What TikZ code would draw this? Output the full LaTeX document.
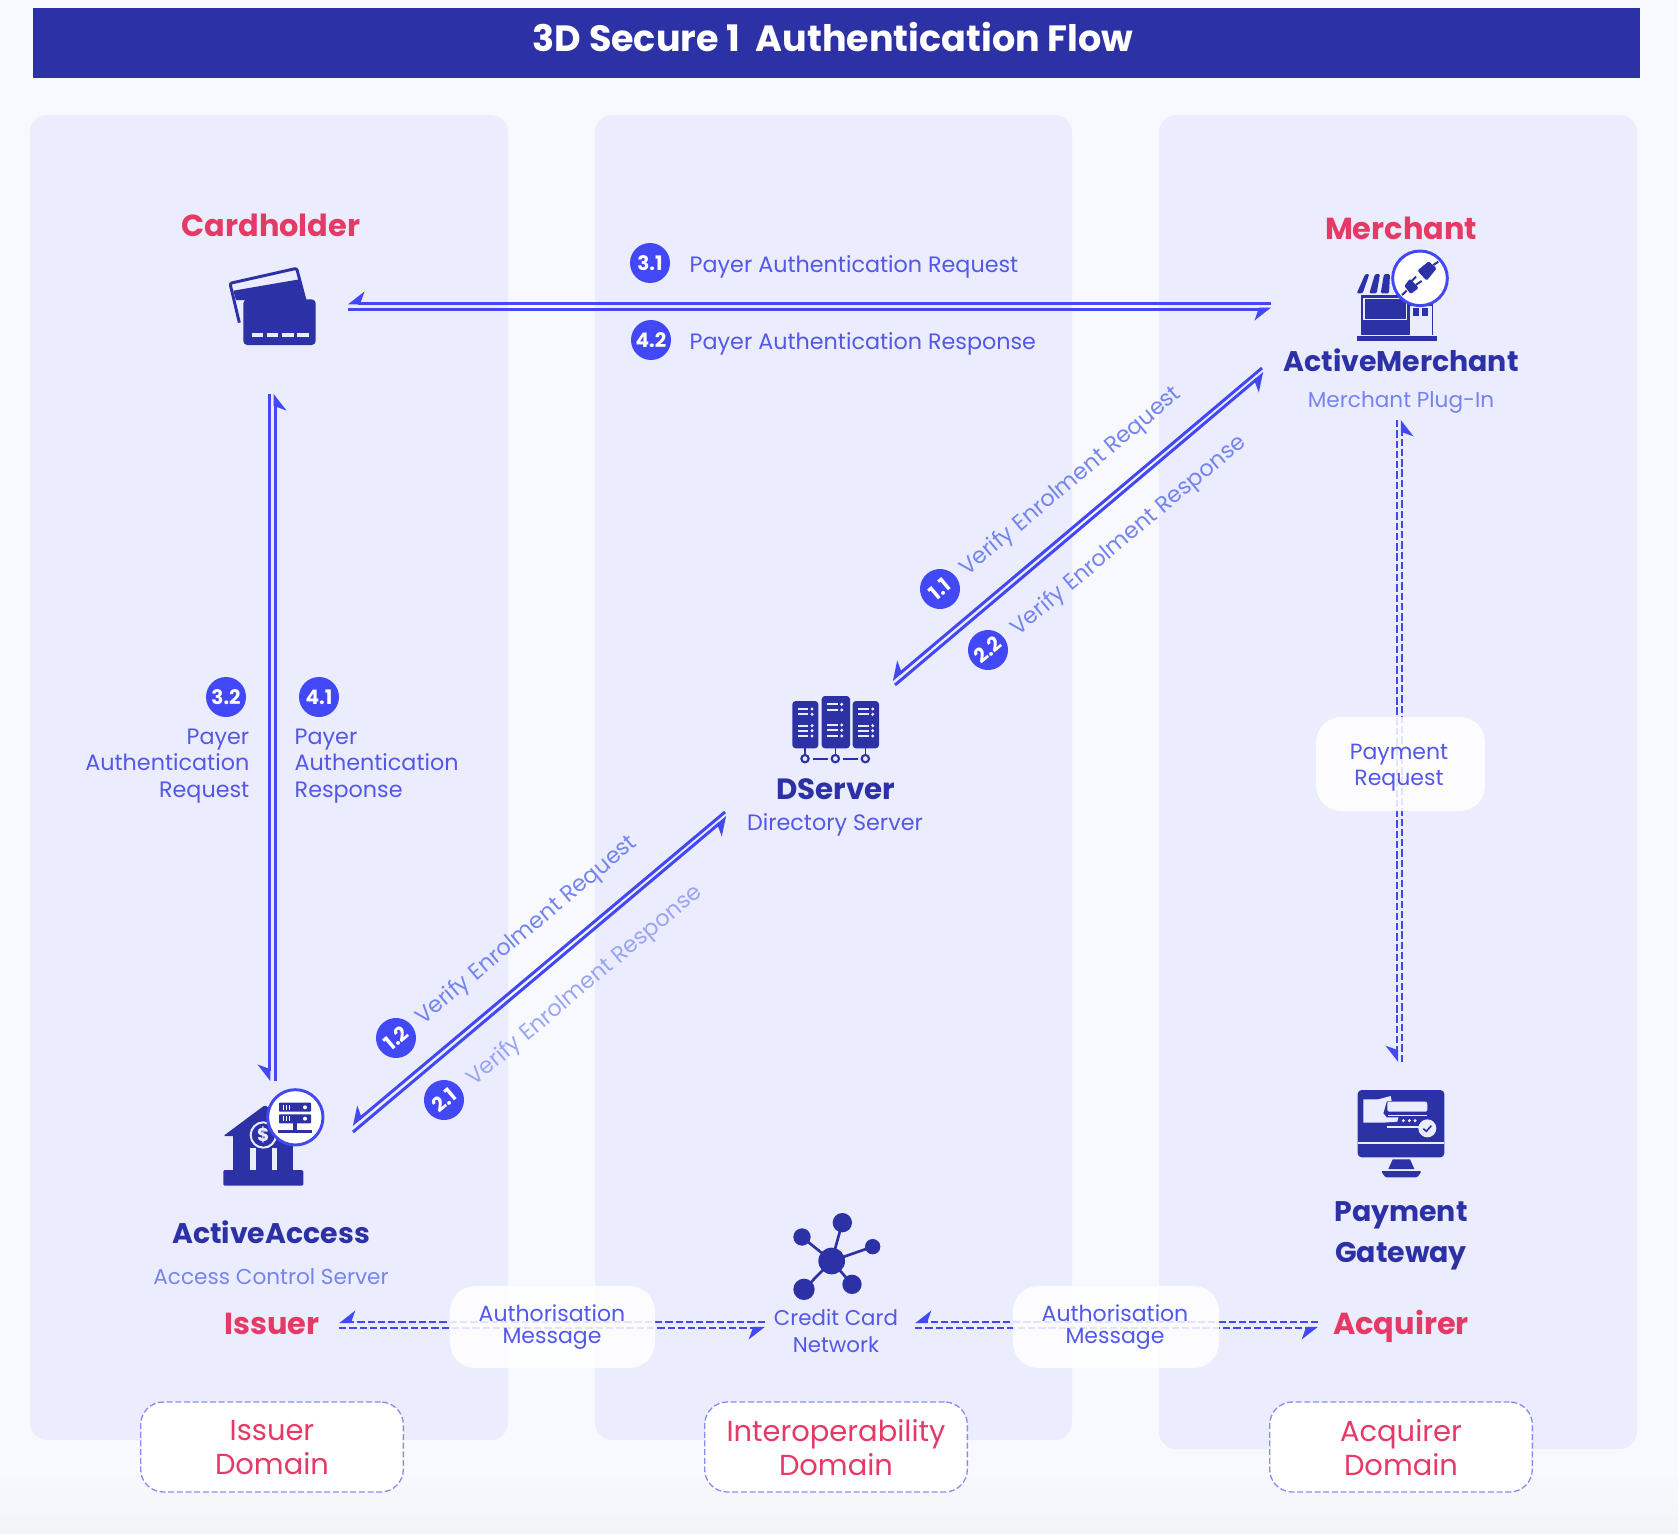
\documentclass[tikz,border=0pt]{standalone}
\usepackage{fontspec}
\setmainfont{Poppins}
\usetikzlibrary{arrows.meta}
\definecolor{bgcol}{HTML}{F8F9FE}
\definecolor{bgend}{HTML}{F3F4F8}
\definecolor{panelcol}{HTML}{EBECFD}
\definecolor{barcol}{HTML}{2D31A6}
\definecolor{pinkcol}{HTML}{E63A66}
\definecolor{flowcol}{HTML}{4348F6}
\definecolor{lightcol}{HTML}{7585F0}
\definecolor{faintcol}{HTML}{9AA6F5}
\definecolor{labelcol}{HTML}{5358E8}
\definecolor{edgecol}{HTML}{8A8CF5}
\newcommand{\fsize}[2]{\fontsize{#1}{#2}\selectfont}
\tikzset{
  flow/.style={draw=flowcol,line width=2.25pt,
    -{Stealth[harpoon,swap,length=11pt,width=17pt,inset=3pt]}},
  dflow/.style={flow,line width=1.8pt,dash pattern=on 5.5pt off 2.2pt},
  panel/.style={fill=panelcol,rounded corners=13pt},
  msgbox/.style={fill=white,fill opacity=.85,rounded corners=19pt},
  domainbox/.style={draw=edgecol,line width=1pt,dash pattern=on 4.5pt off 2pt,
    fill=white,rounded corners=17pt},
  role/.style={text=pinkcol,font=\fsize{22.8}{28}\bfseries},
  actor/.style={text=barcol,font=\fsize{21.3}{31}\bfseries,align=center},
  plugin/.style={text=lightcol,font=\fsize{16.2}{20}},
  msg/.style={text=labelcol,font=\fsize{16.7}{20}},
  small/.style={text=labelcol,font=\fsize{16.5}{17},align=center},
  domtext/.style={text=pinkcol,font=\fsize{21.7}{25.5},align=center},
  badge/.style={circle,fill=flowcol,minimum size=30pt,inner sep=0pt,text=white,
    font=\fsize{15}{15}\bfseries},
  diag/.style={rotate=40,font=\fsize{16.9}{20}},
  icon/.style 2 args={shift={(#1,#2)},x=.25pt,y=-.25pt},
  ink/.style={fill=barcol},
  gap/.style={fill=panelcol}
}
\begin{document}
\begin{tikzpicture}[x=.75pt,y=-.75pt]
  \useasboundingbox (0,0) rectangle (1678,1534);
  \fill[bgcol] (0,0) rectangle (1678,1534);
  \shade[top color=bgcol,bottom color=bgend] (0,1470) rectangle (1678,1534);
  \fill[barcol] (33,8) rectangle (1640,78);
  \node[name=title,text=white,font=\fsize{27.4}{30}\bfseries] at (833,37)
    {3D Secure 1\ \ Authentication Flow};
  \fill[panel] (30,115) rectangle (508,1440);
  \fill[panel] (595,115) rectangle (1072,1440);
  \fill[panel] (1159,115) rectangle (1637,1449);

  \coordinate (cardl) at (348,303);
  \coordinate (cardr) at (348,309);
  \coordinate (merchl) at (1271,303);
  \coordinate (merchr) at (1271,309);
  \draw[flow] (merchl) -- (cardl);
  \draw[flow] (cardr) -- (merchr);
  \coordinate (cardd) at (269,394);
  \coordinate (cardu) at (275,394);
  \coordinate (accessd) at (269,1081);
  \coordinate (accessu) at (275,1081);
  \draw[flow] (cardd) -- (accessd);
  \draw[flow] (accessu) -- (cardu);
  \coordinate (md1) at (1262,368);
  \coordinate (dm1) at (892,680);
  \coordinate (dm2) at (895,685);
  \coordinate (md2) at (1264,373);
  \draw[flow] (md1) -- (dm1);
  \draw[flow] (dm2) -- (md2);
  \coordinate (da1) at (725,812);
  \coordinate (ad1) at (352,1125);
  \coordinate (ad2) at (353,1132);
  \coordinate (da2) at (727,817);
  \draw[flow] (da1) -- (ad1);
  \draw[flow] (ad2) -- (da2);
  \coordinate (pgd) at (1397,420);
  \coordinate (pgu) at (1402,420);
  \coordinate (gwd) at (1397,1062);
  \coordinate (gwu) at (1402,1062);
  \draw[dflow] (pgd) -- (gwd);
  \draw[dflow] (gwu) -- (pgu);
  \coordinate (issl) at (339,1322);
  \coordinate (issr) at (339,1328);
  \coordinate (ccl1) at (765,1322);
  \coordinate (ccl2) at (765,1328);
  \draw[dflow] (ccl1) -- (issl);
  \draw[dflow] (issr) -- (ccl2);
  \coordinate (ccr1) at (915,1322);
  \coordinate (ccr2) at (915,1328);
  \coordinate (acqu) at (1318,1322);
  \coordinate (acqd) at (1318,1328);
  \draw[dflow] (acqu) -- (ccr1);
  \draw[dflow] (ccr2) -- (acqd);

  \fill[msgbox] (450,1286) rectangle (655,1368);
  \fill[msgbox] (1013,1286) rectangle (1219,1368);
  \fill[msgbox] (1316,717) rectangle (1485,811);
  \node[small,name=authl] at (552,1327) {Authorisation\\Message};
  \node[small,name=authr] at (1115,1327) {Authorisation\\Message};
  \node[small,font=\fsize{16.5}{19.5},name=payreq] at (1399,768) {Payment\\Request};
  \node[domainbox,minimum width=197pt,minimum height=67.5pt,name=issbox] at (272,1447) {};
  \node[domainbox,minimum width=197pt,minimum height=67.5pt,name=intbox] at (836,1447) {};
  \node[domainbox,minimum width=197pt,minimum height=67.5pt,name=acqbox] at (1401,1447) {};
  \node[domtext,name=issdom] at (272,1448) {Issuer\\Domain};
  \node[domtext,name=intdom] at (836,1448) {Interoperability\\Domain};
  \node[domtext,name=acqdom] at (1401,1448) {Acquirer\\Domain};

  \node[role,name=cardholder] at (271,225) {Cardholder};
  \node[role,name=merchant] at (1401,228) {Merchant};
  \node[role,name=issuer] at (272,1324) {Issuer};
  \node[role,name=acquirer] at (1401,1326) {Acquirer};
  \node[actor,name=activemerchant] at (1401,360) {ActiveMerchant};
  \node[plugin,name=mpi] at (1401,402) {Merchant Plug-In};
  \node[actor,font=\fsize{22}{31}\bfseries,name=dserver] at (836,789) {DServer};
  \node[msg,name=directory] at (835,825) {Directory Server};
  \node[actor,name=activeaccess] at (271,1232) {ActiveAccess};
  \node[plugin,name=acs] at (271,1277) {Access Control Server};
  \node[actor,name=gateway] at (1401,1236) {Payment\\Gateway};
  \node[small,font=\fsize{16}{20},name=network] at (836,1331) {Credit Card\\Network};

  \node[badge,name=b31] at (650,263) {3.1};
  \node[badge,name=b42] at (651,340) {4.2};
  \node[msg,anchor=west,name=par] at (685,267) {Payer Authentication Request};
  \node[msg,anchor=west,name=pares] at (685,344) {Payer Authentication Response};
  \node[badge,name=b32] at (226,697) {3.2};
  \node[badge,name=b41] at (319,697) {4.1};
  \node[msg,align=right,anchor=east,name=lpar] at (254,766) {Payer\\Authentication\\Request};
  \node[msg,align=left,anchor=west,name=lpares] at (290,766) {Payer\\Authentication\\Response};
  \node[badge,rotate=40,name=b11] at (940,589) {1.1};
  \node[badge,rotate=40,name=b22] at (988,650) {2.2};
  \node[badge,rotate=40,name=b12] at (396,1038) {1.2};
  \node[badge,rotate=40,name=b21] at (444,1100) {2.1};
  \node[diag,text=lightcol,name=ver1] at (1071,482) {Verify Enrolment Request};
  \node[diag,text=lightcol,name=ves1] at (1129,536) {Verify Enrolment Response};
  \node[diag,text=lightcol,name=ver2] at (527,931) {Verify Enrolment Request};
  \node[diag,text=faintcol,name=ves2] at (585,986) {Verify Enrolment Response};

  % cards
  \begin{scope}[icon={150}{200}]
    \draw[barcol,line width=2.2pt,rounded corners=1.5pt] (268,368) -- (240,250) -- (440,205) -- (465,300);
    \fill[ink] (250,272) -- (448,238) -- (465,300) -- (258,300) -- cycle;
    \fill[ink,rounded corners=3pt] (280,298) rectangle (497,435);
    \foreach \xa/\xb in {305/338,350/385,395/432,440/477}
      \draw[panelcol,line width=2.4pt] (\xa,405) -- (\xb,405);
  \end{scope}
  % shop
  \begin{scope}[icon={1240}{200}]
    \fill[ink,rounded corners=1pt] (350,280) -- (376,222) -- (388,222) -- (368,280) -- cycle;
    \fill[ink,rounded corners=1pt] (388,280) -- (405,222) -- (420,222) -- (410,280) -- cycle;
    \fill[ink,rounded corners=1pt] (422,280) -- (432,222) -- (450,222) -- (447,280) -- cycle;
    \fill[ink] (363,285) rectangle (510,405);
    \draw[panelcol,line width=.8pt] (372,295) rectangle (500,358);
    \draw[barcol,line width=.8pt] (510,315) -- (577,315) -- (577,405);
    \fill[ink] (520,325) rectangle (538,347);
    \fill[ink] (545,325) rectangle (565,347);
    \fill[ink] (350,408) rectangle (590,423);
    \draw[flowcol,line width=2.2pt,fill=white] (540,235) circle (82);
    \fill[ink,rounded corners=1pt] (532,212) -- (566,184) -- (590,205) -- (560,242) -- cycle;
    \draw[barcol,line width=1.5pt] (580,195) -- (595,185);
    \fill[ink,rounded corners=1pt] (493,258) -- (510,236) -- (536,264) -- (512,282) -- cycle;
    \draw[barcol,line width=1.5pt] (500,272) -- (486,285);
    \draw[barcol,line width=1.5pt] (515,243) -- (528,230);
    \draw[barcol,line width=1.5pt] (527,255) -- (545,243);
  \end{scope}
  % racks
  \begin{scope}[icon={720}{660}]
    \fill[ink,rounded corners=2.5pt] (217,123) rectangle (295,265);
    \fill[ink,rounded corners=2.5pt] (305,108) rectangle (390,265);
    \fill[ink,rounded corners=2.5pt] (398,123) rectangle (477,265);
    \foreach \xs/\ys in {233/{147,163,197,212,228},322/{133,150,195,211,228},415/{147,163,197,212,228}}
      \foreach \yl in \ys {
        \draw[panelcol,line width=1.4pt] (\xs,\yl) -- ++(32,0);
        \fill[panelcol] (\xs+43,\yl) circle (5);
      }
    \foreach \xr in {255,346,436} {
      \draw[barcol,line width=1pt] (\xr,265) -- (\xr,282);
      \draw[barcol,line width=1.6pt] (\xr,296) circle (11);
    }
    \draw[barcol,line width=1.6pt] (278,296) -- (323,296);
    \draw[barcol,line width=1.6pt] (369,296) -- (413,296);
  \end{scope}
  % bank
  \begin{scope}[icon={170}{1060}]
    \fill[ink,rounded corners=1pt] (160,228) -- (285,135) -- (400,228) -- cycle;
    \fill[ink] (190,228) rectangle (370,332);
    \fill[gap] (240,265) rectangle (258,330);
    \fill[gap] (305,265) rectangle (322,330);
    \fill[ink,rounded corners=1pt] (160,330) rectangle (400,377);
    \draw[panelcol,line width=1.5pt,fill=barcol] (280,225) circle (38);
    \node[text=panelcol,inner sep=0pt,font=\fsize{14}{14}\bfseries,name=dollar] at (280,225) {\$};
    \draw[flowcol,line width=2.2pt,fill=white] (376,172) circle (83);
    \fill[ink,rounded corners=.6pt] (327,128) rectangle (423,155);
    \fill[ink,rounded corners=.6pt] (327,163) rectangle (423,190);
    \foreach \yl in {142,176} {
      \foreach \xl in {341,350,359} \draw[white,line width=.7pt] (\xl,\yl-7) -- (\xl,\yl+7);
      \fill[white] (405,\yl) circle (6);
    }
    \fill[ink] (370,190) rectangle (380,210);
    \fill[ink] (325,210) rectangle (425,218);
  \end{scope}
  % monitor
  \begin{scope}[icon={1320}{1060}]
    \fill[ink,rounded corners=3pt] (113,90) rectangle (373,292);
    \draw[panelcol,line width=1.4pt] (113,250) -- (373,250);
    \fill[ink] (218,298) -- (270,298) -- (283,327) -- (205,327) -- cycle;
    \fill[ink,rounded corners=1pt] (183,333) -- (305,333) -- (292,352) -- (196,352) -- cycle;
    \fill[panelcol] (130,118) -- (175,118) -- (212,108) -- (215,122) -- (200,125) -- (190,160) -- (200,172) -- (235,172) -- (232,185) -- (188,188) -- (130,188) -- cycle;
    \fill[panelcol,rounded corners=1.5pt] (202,125) rectangle (322,155);
    \draw[panelcol,line width=1pt] (205,166) -- (322,166);
    \draw[panelcol,line width=1.2pt] (202,201) -- (300,201);
    \foreach \xd in {250,268,285} \fill[panelcol] (\xd,182) circle (5);
    \fill[panelcol] (322,205) circle (27);
    \draw[barcol,line width=1.2pt] (310,206) -- (319,214) -- (334,197);
  \end{scope}
  % network
  \begin{scope}[icon={760}{1190}]
    \foreach \xn/\yn/\rn in {247/98/29,126/141/26,338/170/23,132/298/32,276/283/29} {
      \draw[barcol,line width=2pt] (215,213) -- (\xn,\yn);
      \fill[ink] (\xn,\yn) circle (\rn);
    }
    \fill[ink] (215,213) circle (40);
  \end{scope}
\end{tikzpicture}
\end{document}
